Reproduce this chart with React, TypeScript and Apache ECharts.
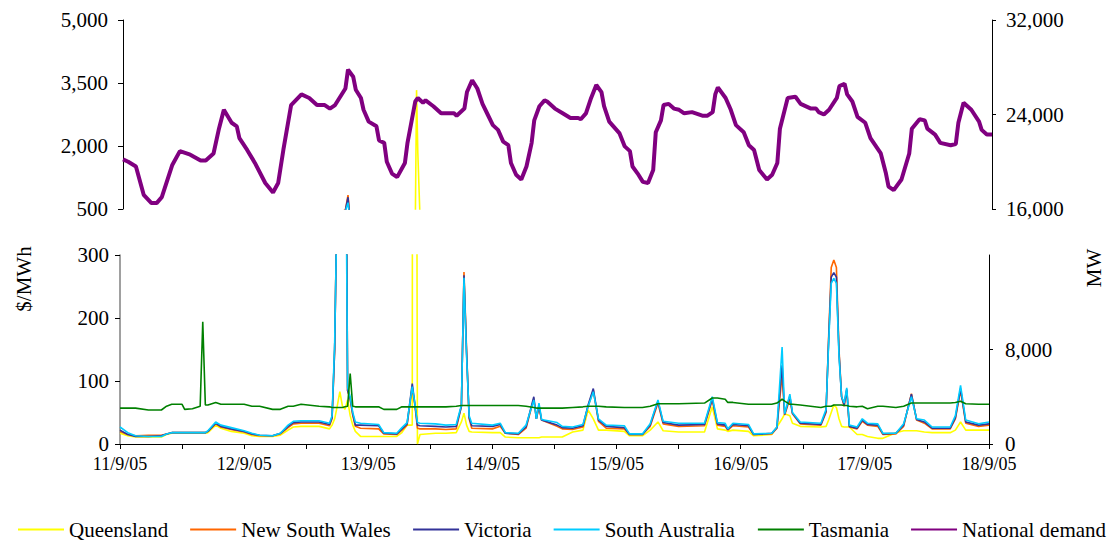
import React, { useEffect, useRef } from "react";
import * as echarts from "echarts";

const FONT = '"Liberation Serif", "Times New Roman", serif';

const dayLabels = ["11/9/05", "12/9/05", "13/9/05", "14/9/05", "15/9/05", "16/9/05", "17/9/05", "18/9/05"];
const seriesNames = ["Queensland", "New South Wales", "Victoria", "South Australia", "Tasmania", "National demand"];
const seriesColors = ["#ffff00", "#ff6600", "#333399", "#00ccff", "#008000", "#800080"];

// hours since 11/9/05 00:00
const priceHours = [
  0, 1.5, 3, 5.5, 8, 9, 10, 12, 12.5, 14, 15.5, 16, 16.5, 17, 18.5, 19.5, 21.5, 24, 25.5, 27, 29.5, 31, 32.5, 33.5, 35, 38.5,
  40.5, 41, 41.5, 42, 42.5, 43, 43.5, 44, 44.5, 45, 45.5, 46.5, 50, 51, 53.5, 54.5, 55.5, 56.5, 56.75, 57, 57.5, 58, 61, 63,
  65, 66, 66.5, 67, 67.5, 68, 72, 73.5, 74.5, 77, 78.5, 80, 80.5, 81, 81.5, 84.5, 85.5, 87.5, 89.5, 90.5, 91.5, 92.5, 94,
  97.5, 98.5, 101, 102.5, 104, 105, 108, 113, 114.5, 115.5, 117, 117.5, 118.5, 121.5, 122.5, 126, 127, 128, 128.5, 129.5,
  130, 131.5, 135.5, 136.5, 137, 137.5, 138, 138.5, 139, 139.5, 140, 140.5, 141, 142.5, 143.5, 144.5, 146.5, 147.5, 150,
  151.5, 153, 154, 155.5, 157, 160.5, 161.5, 162.5, 163.5, 166, 168,
];
// $/MWh
const queensland = [
  17, 13, 11, 11, 11, 15, 17, 17, 17, 17, 17, 17, 17, 18, 30, 25, 20, 17, 13, 12, 12, 14, 22, 27, 28, 28,
  24, 30, 40, 60, 83, 60, 55, 70, 45, 30, 20, 12, 12, 12, 12, 18, 30, 30, 3330, 1830, 0, 15, 17, 17,
  18, 35, 49, 30, 20, 19, 18, 18, 11, 10, 10, 10, 10, 10, 11, 11, 11, 19, 22, 54, 40, 22, 22,
  20, 13, 13, 22, 35, 21, 19, 19, 59, 24, 22, 20, 22, 20, 13, 15, 27, 40, 48, 45,
  33, 28, 27, 28, 38, 50, 62, 58, 40, 28, 27, 27, 27, 15, 15, 12, 9, 9, 18,
  21, 21, 21, 19, 18, 18, 22, 35, 22, 22, 22,
];
const newSouthWales = [
  20, 15, 13, 14, 14, 16, 18, 18, 18, 18, 18, 18, 18, 20, 32, 27, 23, 19, 15, 13, 13, 16, 26, 32, 33, 33,
  29, 40, 150, 420, 450, 480, 830, 85, 70, 45, 28, 25, 24, 16, 15, 22, 30, 90, 75, 62, 25, 24, 24, 23,
  24, 60, 273, 150, 40, 25, 24, 28, 17, 15, 25, 72, 40, 58, 38, 28, 24, 23, 27, 60, 85, 36, 25,
  24, 15, 15, 28, 65, 32, 28, 29, 70, 30, 28, 22, 29, 27, 15, 16, 25, 110, 46, 72,
  48, 32, 30, 50, 170, 280, 292, 280, 150, 75, 60, 85, 27, 24, 36, 30, 28, 15, 16,
  28, 80, 38, 33, 24, 24, 40, 85, 33, 28, 30,
];
const victoria = [
  22, 15, 12, 12, 13, 16, 18, 18, 18, 18, 18, 18, 18, 20, 33, 28, 24, 20, 16, 14, 13, 17, 28, 34, 35, 35,
  31, 42, 150, 410, 440, 470, 780, 85, 72, 48, 30, 30, 29, 17, 16, 24, 32, 96, 80, 64, 30, 29, 28, 27,
  28, 60, 268, 145, 42, 29, 28, 31, 17, 16, 27, 75, 40, 62, 38, 30, 26, 25, 29, 62, 88, 38, 28,
  26, 15, 15, 30, 68, 34, 30, 31, 72, 32, 30, 23, 31, 29, 15, 17, 26, 125, 47, 76,
  49, 33, 31, 52, 165, 265, 272, 265, 145, 75, 62, 87, 28, 25, 38, 31, 30, 16, 17,
  30, 79, 39, 35, 25, 25, 42, 88, 35, 30, 32,
];
const southAustralia = [
  27, 18, 13, 12, 12, 16, 18, 18, 18, 18, 18, 18, 18, 21, 35, 30, 26, 21, 17, 14, 13, 17, 30, 36, 37, 37,
  33, 45, 160, 400, 420, 450, 650, 90, 75, 50, 35, 33, 31, 18, 17, 26, 34, 91, 78, 65, 34, 33, 32, 30,
  31, 62, 264, 140, 45, 33, 30, 33, 18, 17, 30, 70, 40, 65, 39, 34, 28, 27, 31, 60, 83, 40, 30,
  29, 16, 16, 32, 70, 36, 33, 33, 75, 34, 33, 24, 33, 31, 16, 17, 27, 154, 48, 79,
  50, 35, 33, 55, 160, 255, 263, 255, 140, 75, 65, 89, 30, 27, 40, 33, 32, 17, 17,
  32, 75, 40, 38, 27, 27, 45, 93, 38, 32, 35,
];
const tasmania = [
  57, 57, 57, 54, 54, 60, 63, 63, 55, 56, 60, 194, 62, 62, 66, 63, 63, 63, 60, 60, 55, 55, 60, 60, 63, 60,
  59, 58, 58, 58, 58, 58, 59, 60, 112, 60, 59, 59, 59, 55, 55, 59, 59, 59, 59, 59, 59, 59, 59, 59,
  60, 61, 61, 61, 61, 61, 61, 61, 61, 61, 60, 58, 57, 57, 57, 57, 57, 58, 59, 60, 60, 60, 59,
  58, 58, 58, 60, 64, 64, 64, 65, 73, 73, 71, 66, 66, 63, 63, 63, 65, 71, 68, 63,
  63, 62, 58, 60, 60, 60, 62, 62, 62, 62, 61, 61, 60, 59, 60, 56, 60, 60, 58,
  60, 65, 65, 65, 65, 65, 66, 68, 64, 63, 63,
];

const demandHours = [
  0, 1, 2.5, 4, 5.5, 6.5, 7.5, 9.5, 11, 13, 15, 16, 17.5, 18.5, 19.5, 21, 22, 22.5, 24, 25.5, 27.5, 29, 30, 31, 32.5, 34.5,
  36, 37.5, 39, 40, 41, 43, 43.5, 44.5, 45, 46, 46.5, 47.5, 49, 49.5, 50.5, 51, 52, 53, 54.5, 55, 56.5, 57, 58, 58.5, 60,
  61.5, 64, 64.5, 66, 66.5, 67.5, 68.5, 69.5, 70.5, 71.5, 72.5, 73.5, 74.5, 75, 76, 77, 78, 79, 79.5, 80.5, 81.5, 82,
  83.5, 85, 86.5, 88, 88.5, 89.5, 90.5, 91.5, 92.5, 93, 94, 96, 97, 98, 98.5, 99.5, 100.5, 101.5, 102.5, 103, 104,
  104.5, 105.5, 106.5, 107.5, 108.5, 110, 112, 113, 114, 114.5, 115, 116.5, 117.5, 118.5, 120, 121, 122, 123, 124.5,
  125.5, 126.5, 127, 128.5, 130, 131, 133, 134, 134.5, 135.5, 136.5, 138, 138.5, 139.5, 140, 141, 142, 143.5, 144.5,
  146.5, 147.5, 148, 149, 150.5, 152, 152.5, 154, 155, 155.5, 157, 158, 160, 161, 161.5, 162.5, 164, 165.5, 166, 167, 168,
];
// MW
const nationalDemand = [
  20200, 20000, 19600, 17200, 16500, 16500, 17000, 19700, 20900, 20600, 20100, 20100, 20700, 22700, 24400, 23300, 23000,
  22000, 21000, 19900, 18200, 17400, 18200, 21000, 24800, 25700,
  25400, 24800, 24800, 24500, 24800, 26200, 27800, 27200, 26100, 25400, 24400, 23400, 23000, 21800, 21600, 20000, 19000,
  18700, 19900, 21600, 25100, 25400, 25000, 25200, 24700,
  24100, 24100, 23900, 24500, 25900, 26900, 26200, 24900, 24000, 23100, 22700, 21700, 21400, 19900, 18900, 18500, 19600,
  21600, 23500, 24700, 25200, 25100,
  24500, 24100, 23700, 23700, 23600, 24100, 25400, 26500, 25900, 24700, 23400, 22400, 21300, 20900, 19600, 19000, 18300,
  18200, 19300, 22500, 23500,
  24800, 24900, 24500, 24400, 24100, 24200, 23900, 23900, 24200, 25700, 26300, 25400, 24400, 23100, 22500, 21400, 21000,
  19300, 18500,
  18900, 19900, 22800, 25400, 25500, 24900, 24500, 24500, 24200, 24000, 24400, 25400, 26400, 26600, 25700, 25100, 23800,
  23300, 22000,
  20700, 19000, 17900, 17600, 18500, 20700, 22800, 23600, 23500, 22800, 22300, 21600, 21400, 21500, 23300, 25000, 24400,
  23400, 22700, 22300, 22300,
];

const leftTopTicks = [500, 2000, 3500, 5000];
const rightBottomTicks = [0, 8000];

const pair = (hours: number[], vals: number[]) => hours.map((h, i) => [h, vals[i]]);
const fmt = (v: number) => Math.round(v).toLocaleString("en-US");

export default function App() {
  const ref = useRef<HTMLDivElement>(null);

  useEffect(() => {
    if (!ref.current) return;
    const chart = echarts.init(ref.current, undefined, { renderer: "svg" });
    const priceData = [queensland, newSouthWales, victoria, southAustralia, tasmania];
    const axisLabelStyle = { color: "#000", fontFamily: FONT, fontSize: 21 };

    const series: any[] = [];
    priceData.forEach((vals, i) => {
      series.push({
        name: seriesNames[i],
        type: "line",
        xAxisIndex: 1,
        yAxisIndex: 2,
        data: pair(priceHours, vals),
        showSymbol: false,
        symbol: "none",
        lineStyle: { color: seriesColors[i], width: 1.6 },
        itemStyle: { color: seriesColors[i] },
        clip: true,
      });
    });
    priceData.slice(0, 4).forEach((vals, i) => {
      series.push({
        name: seriesNames[i],
        type: "line",
        xAxisIndex: 0,
        yAxisIndex: 0,
        data: pair(priceHours, vals),
        showSymbol: false,
        symbol: "none",
        lineStyle: { color: seriesColors[i], width: 1.6 },
        itemStyle: { color: seriesColors[i] },
        clip: true,
      });
    });
    series.push({
      name: seriesNames[5],
      type: "line",
      xAxisIndex: 0,
      yAxisIndex: 1,
      data: pair(demandHours, nationalDemand),
      showSymbol: false,
      symbol: "none",
      lineStyle: { color: seriesColors[5], width: 4 },
      itemStyle: { color: seriesColors[5] },
      clip: true,
      z: 5,
    });

    chart.setOption({
      animation: false,
      backgroundColor: "#fff",
      textStyle: { fontFamily: FONT },
      grid: [
        { left: 123, right: 125, top: 20, height: 189 },
        { left: 120, right: 128, top: 255, height: 189 },
      ],
      xAxis: [
        { type: "value", gridIndex: 0, min: 0, max: 168, show: false },
        {
          type: "value",
          gridIndex: 1,
          min: 0,
          max: 168,
          interval: 12,
          splitLine: { show: false },
          axisLine: { lineStyle: { color: "#000", width: 1 } },
          axisTick: { length: 5, lineStyle: { color: "#000" } },
          axisLabel: {
            ...axisLabelStyle,
            fontSize: 18,
            margin: 11,
            formatter: (v: number) => (v % 24 === 0 ? dayLabels[v / 24] : ""),
          },
        },
      ],
      yAxis: [
        {
          type: "value",
          gridIndex: 0,
          position: "left",
          min: 500,
          max: 5000,
          splitLine: { show: false },
          axisLine: { show: true, lineStyle: { color: "#000" } },
          axisTick: { show: true, length: 5, customValues: leftTopTicks, lineStyle: { color: "#000" } },
          axisLabel: { ...axisLabelStyle, margin: 15, customValues: leftTopTicks, formatter: fmt },
        },
        {
          type: "value",
          gridIndex: 0,
          position: "right",
          min: 16000,
          max: 32000,
          interval: 8000,
          splitLine: { show: false },
          axisLine: { show: true, lineStyle: { color: "#000" } },
          axisTick: { show: true, length: 4, lineStyle: { color: "#000" } },
          axisLabel: { ...axisLabelStyle, margin: 14, formatter: fmt },
        },
        {
          type: "value",
          gridIndex: 1,
          position: "left",
          min: 0,
          max: 300,
          interval: 100,
          splitLine: { show: false },
          axisLine: { show: true, lineStyle: { color: "#808080", width: 1.5 } },
          axisTick: { show: true, length: 5, lineStyle: { color: "#000" } },
          axisLabel: { ...axisLabelStyle, margin: 11, formatter: fmt },
        },
        {
          type: "value",
          gridIndex: 1,
          position: "right",
          min: 0,
          max: 16000,
          splitLine: { show: false },
          axisLine: { show: true, lineStyle: { color: "#000" } },
          axisTick: { show: true, length: 4, customValues: rightBottomTicks, lineStyle: { color: "#000" } },
          axisLabel: { ...axisLabelStyle, margin: 16, customValues: rightBottomTicks, formatter: fmt },
        },
      ],
      legend: {
        data: seriesNames,
        left: 12,
        top: 514,
        width: 1105,
        itemWidth: 46,
        itemHeight: 14,
        itemGap: 21,
        itemStyle: { opacity: 0 },
        textStyle: { color: "#000", fontFamily: FONT, fontSize: 21 },
      },
      graphic: [
        {
          type: "text",
          x: 24,
          y: 279,
          rotation: Math.PI / 2,
          style: {
            text: "$/MWh",
            fill: "#000",
            font: `21px ${FONT}`,
            align: "center",
            verticalAlign: "middle",
            textAlign: "center",
            textVerticalAlign: "middle",
          },
        },
        {
          type: "text",
          x: 1094,
          y: 268,
          rotation: Math.PI / 2,
          style: {
            text: "MW",
            fill: "#000",
            font: `21px ${FONT}`,
            align: "center",
            verticalAlign: "middle",
            textAlign: "center",
            textVerticalAlign: "middle",
          },
        },
      ],
      series,
    });

    return () => chart.dispose();
  }, []);

  return (
    <div
      ref={ref}
      style={{ position: "absolute", left: 0, top: 0, width: 1117, height: 542, background: "#fff" }}
    />
  );
}
